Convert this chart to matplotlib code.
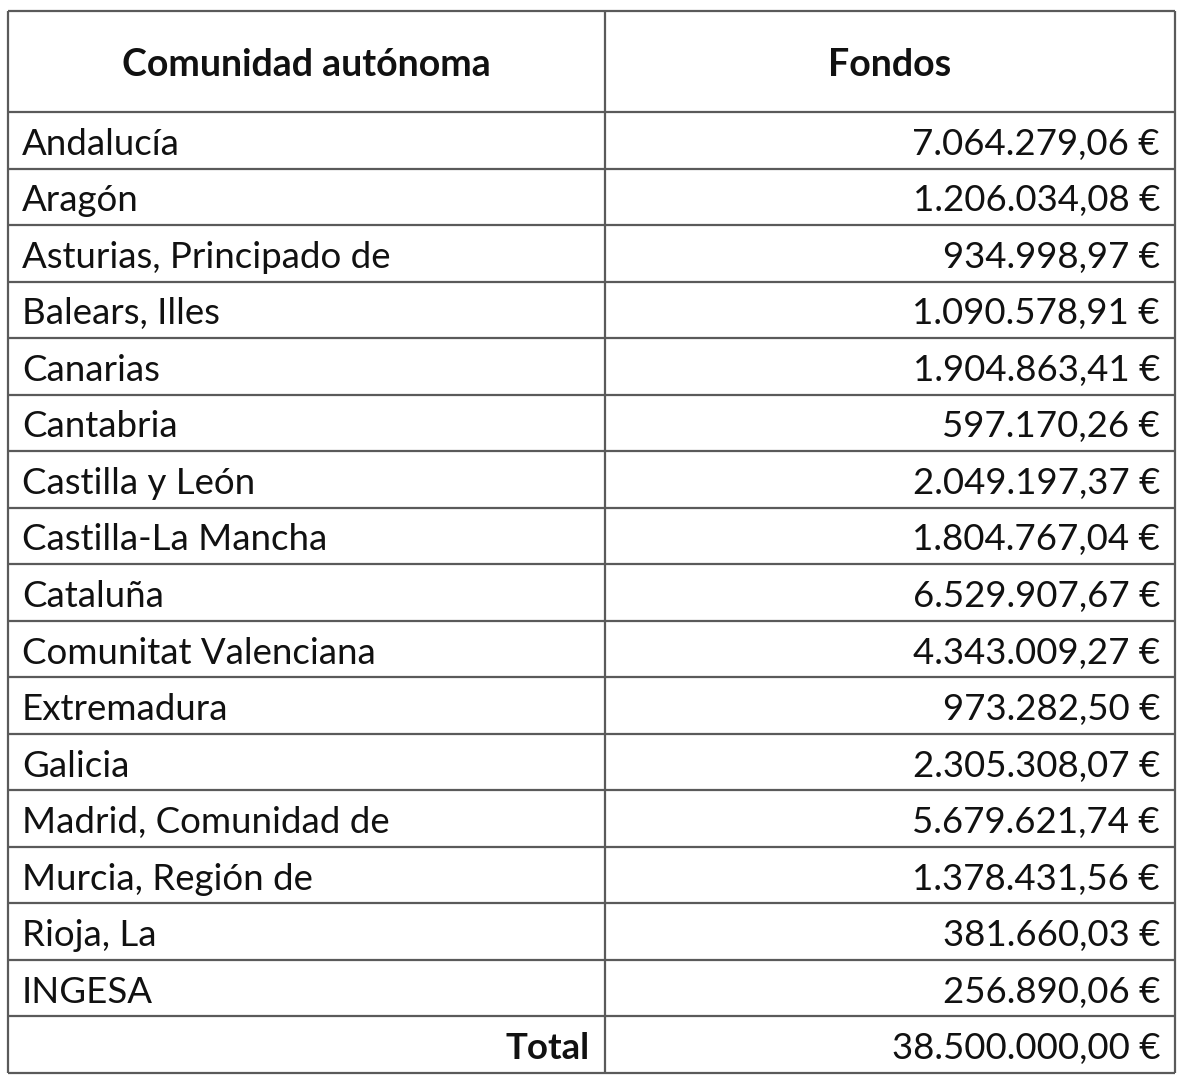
import matplotlib
matplotlib.use("Agg")
import matplotlib.pyplot as plt

headers = ["Comunidad autónoma", "Fondos"]
regions = ["Andalucía", "Aragón", "Asturias, Principado de", "Balears, Illes", "Canarias",
           "Cantabria", "Castilla y León", "Castilla-La Mancha", "Cataluña",
           "Comunitat Valenciana", "Extremadura", "Galicia", "Madrid, Comunidad de",
           "Murcia, Región de", "Rioja, La", "INGESA"]
funds = ["7.064.279,06 €", "1.206.034,08 €", "934.998,97 €", "1.090.578,91 €",
         "1.904.863,41 €", "597.170,26 €", "2.049.197,37 €", "1.804.767,04 €",
         "6.529.907,67 €", "4.343.009,27 €", "973.282,50 €", "2.305.308,07 €",
         "5.679.621,74 €", "1.378.431,56 €", "381.660,03 €", "256.890,06 €"]
total_label = "Total"
total_value = "38.500.000,00 €"

W, H = 1200, 1082
fig = plt.figure(figsize=(W / 100, H / 100), dpi=100)
ax = fig.add_axes([0, 0, 1, 1])
ax.set_xlim(0, W)
ax.set_ylim(H, 0)
ax.axis("off")

plt.rcParams["font.family"] = ["Lato", "DejaVu Sans"]
left, right, mid = 8, 1175, 605
top, head_bot = 11, 112
n_rows = len(regions) + 1
row_h = (1073 - head_bot) / n_rows
bottom = head_bot + n_rows * row_h
lc = "#5a5a5a"
lw = 1.6
fs = 26.4
fs_h = 27
tc = "#111111"
dy = 4

# grid lines
ys = [top, head_bot] + [head_bot + (i + 1) * row_h for i in range(n_rows)]
ax.hlines(ys, left, right, colors=lc, linewidth=lw)
ax.vlines([left, mid, right], top, bottom, colors=lc, linewidth=lw)

# header
hy = (top + head_bot) / 2 + dy
ax.text((left + mid) / 2, hy, headers[0], ha="center", va="center", fontsize=fs_h,
        fontweight="bold", color=tc)
ax.text((mid + right) / 2, hy, headers[1], ha="center", va="center", fontsize=fs_h,
        fontweight="bold", color=tc)

for i, (r, f) in enumerate(zip(regions, funds)):
    cy = head_bot + (i + 0.5) * row_h + dy
    ax.text(22, cy, r, ha="left", va="center", fontsize=fs, color=tc)
    ax.text(1160, cy, f, ha="right", va="center", fontsize=fs, color=tc)

cy = head_bot + (n_rows - 0.5) * row_h + dy
ax.text(590, cy, total_label, ha="right", va="center", fontsize=fs, fontweight="bold",
        color=tc)
ax.text(1160, cy, total_value, ha="right", va="center", fontsize=fs, color=tc)

fig.savefig("out.png", dpi=100, facecolor="white")
